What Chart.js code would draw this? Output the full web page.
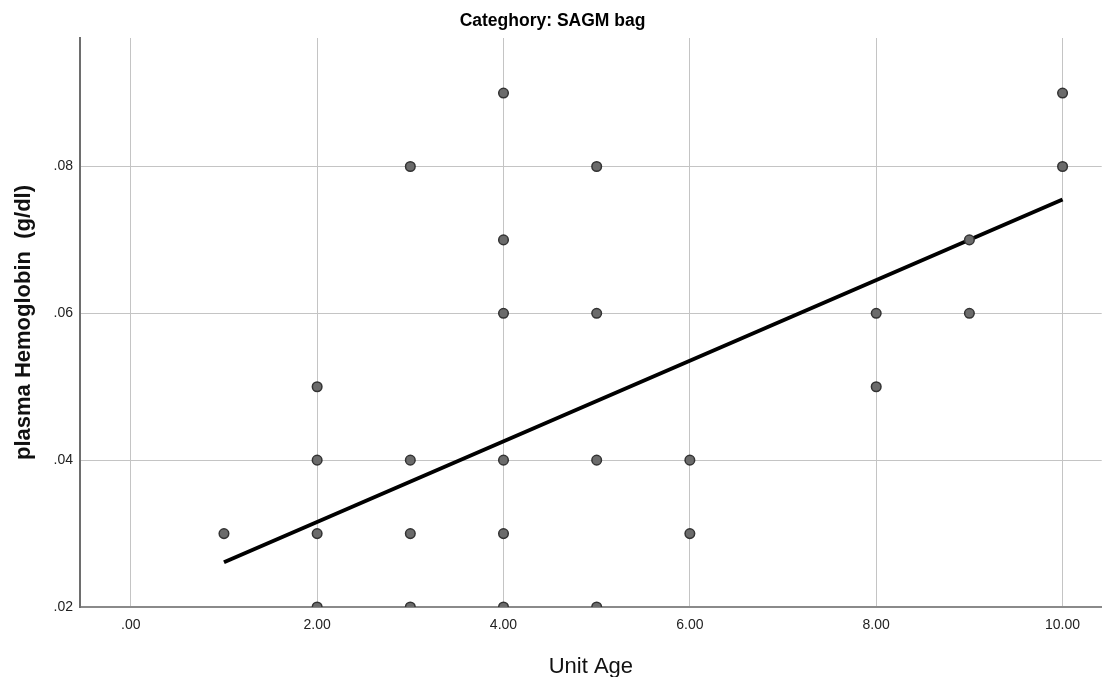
<!DOCTYPE html>
<html>
<head>
<meta charset="utf-8">
<script src="https://cdn.jsdelivr.net/npm/chart.js@4"></script>
<style>
  body { margin: 0; background: #fff; }
  #wrap { width: 1108px; height: 677px; }
</style>
</head>
<body>
<div id="wrap"><canvas id="scatter" width="1108" height="677"></canvas></div>
<script>
const unitAge = [1, 2, 2, 2, 2, 3, 3, 3, 3, 4, 4, 4, 4, 4, 4, 5, 5, 5, 5, 6, 6, 8, 8, 9, 9, 10, 10];
const plasmaHb = [0.03, 0.02, 0.03, 0.04, 0.05, 0.02, 0.03, 0.04, 0.08, 0.02, 0.03, 0.04, 0.06, 0.07, 0.09,
  0.02, 0.04, 0.06, 0.08, 0.03, 0.04, 0.05, 0.06, 0.06, 0.07, 0.08, 0.09];
const fitX = [1, 10];
const fitY = [0.0261, 0.0755];
const xTicks = [0, 2, 4, 6, 8, 10];
const yTicks = [0.02, 0.04, 0.06, 0.08];

const points = unitAge.map((x, i) => ({ x: x, y: plasmaHb[i] }));
const fitLine = fitX.map((x, i) => ({ x: x, y: fitY[i] }));

const ctx = document.getElementById("scatter").getContext("2d");
new Chart(ctx, {
  type: "scatter",
  data: {
    datasets: [
      {
        label: "points",
        data: points,
        backgroundColor: "#6b6b6b",
        borderColor: "#333333",
        borderWidth: 1.5,
        pointRadius: 4.8,
        clip: 0
      },
      {
        label: "fit",
        type: "line",
        data: fitLine,
        borderColor: "#000000",
        borderWidth: 4,
        pointRadius: 0,
        fill: false
      }
    ]
  },
  options: {
    responsive: false,
    animation: false,
    layout: { padding: { left: 0, right: 3, top: 0, bottom: 0 } },
    plugins: {
      legend: { display: false },
      tooltip: { enabled: false },
      title: {
        display: true,
        text: "Categhory: SAGM bag",
        color: "#000",
        font: { family: "'Liberation Sans', Arial", size: 17.5, weight: "bold" },
        padding: { top: 11, bottom: 6 }
      }
    },
    scales: {
      x: {
        type: "linear",
        min: -0.545,
        max: 10.42,
        afterBuildTicks: scale => { scale.ticks = xTicks.map(v => ({ value: v })); },
        afterFit: scale => { scale.height = 70; scale.paddingLeft = 0; scale.paddingRight = 0; },
        ticks: {
          color: "#222",
          padding: 10,
          font: { family: "'Liberation Sans', Arial", size: 14 },
          callback: v => (v === 0 ? ".00" : v.toFixed(2))
        },
        grid: { color: "#c4c4c4", lineWidth: 1, drawTicks: false },
        border: { color: "#8a8a8a", width: 2 },
        title: {
          display: true,
          text: "Unit Age",
          color: "#111",
          font: { family: "'Liberation Sans', Arial", size: 22 },
          padding: { top: 0, bottom: -3 }
        }
      },
      y: {
        type: "linear",
        min: 0.02,
        max: 0.0975,
        afterBuildTicks: scale => { scale.ticks = yTicks.map(v => ({ value: v })); },
        afterFit: scale => { scale.width = 80; scale.paddingTop = 0; scale.paddingBottom = 0; },
        ticks: {
          color: "#222",
          padding: 7,
          font: { family: "'Liberation Sans', Arial", size: 14 },
          callback: v => v.toFixed(2).replace(/^0/, "")
        },
        grid: { color: "#c4c4c4", lineWidth: 1, drawTicks: false },
        border: { color: "#6e6e6e", width: 2 },
        title: {
          display: true,
          text: "plasma Hemoglobin  (g/dl)",
          color: "#111",
          font: { family: "'Liberation Sans', Arial", size: 22, weight: "bold" },
          padding: { top: 11, bottom: 0 }
        }
      }
    }
  }
});
</script>
</body>
</html>
